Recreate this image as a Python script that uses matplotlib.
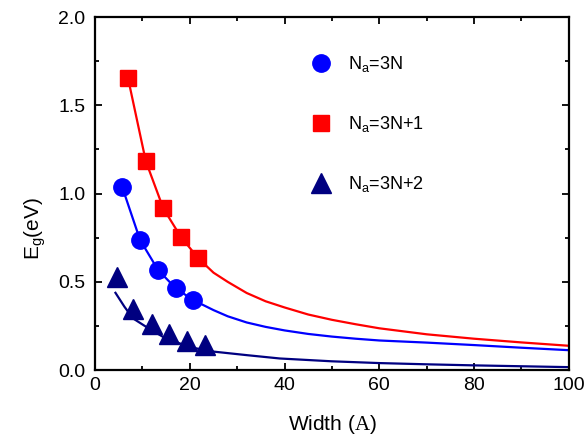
import matplotlib
matplotlib.use("Agg")
import matplotlib.pyplot as plt

plt.rcParams['font.family'] = ['Liberation Sans', 'DejaVu Sans']
plt.rcParams['mathtext.fontset'] = 'custom'
plt.rcParams['mathtext.rm'] = 'Liberation Sans'
plt.rcParams['mathtext.tt'] = 'Liberation Serif'

# markers (width in Angstrom, gap in eV)
w_3n = [5.75, 9.5, 13.3, 17.05, 20.7]
eg_3n = [1.035, 0.737, 0.567, 0.463, 0.397]
w_3n1 = [6.95, 10.7, 14.4, 18.1, 21.8]
eg_3n1 = [1.654, 1.184, 0.916, 0.755, 0.633]
w_3n2 = [4.6, 8.1, 12.0, 15.7, 19.3, 23.1]
eg_3n2 = [0.529, 0.344, 0.264, 0.202, 0.164, 0.140]

# curves
cw_3n = [5.75, 9.5, 13.3, 17.05, 20.7, 25, 28, 32, 36, 40, 45, 50, 55, 60, 70, 80, 90, 100]
ce_3n = [1.035, 0.737, 0.567, 0.463, 0.397, 0.34, 0.305, 0.27, 0.245, 0.225, 0.205,
         0.19, 0.178, 0.168, 0.156, 0.142, 0.127, 0.113]
cw_3n1 = [6.95, 10.7, 14.4, 18.1, 21.8, 25, 28, 32, 36, 40, 45, 50, 55, 60, 70, 80, 90, 100]
ce_3n1 = [1.654, 1.184, 0.916, 0.755, 0.633, 0.552, 0.50, 0.437, 0.39, 0.355, 0.315,
          0.285, 0.26, 0.237, 0.203, 0.178, 0.157, 0.138]
cw_3n2 = [4.3, 6.2, 8.0, 10.8, 14.3, 17.9, 21.4, 25, 32, 39, 50, 60, 70, 80, 90, 100]
ce_3n2 = [0.438, 0.359, 0.293, 0.245, 0.189, 0.151, 0.123, 0.105, 0.085, 0.066, 0.05,
          0.04, 0.033, 0.027, 0.022, 0.017]

red = '#ff0000'
blue = '#0000ff'
navy = '#000080'

fig = plt.figure(figsize=(5.87, 4.37), dpi=100)
ax = fig.add_axes([0.162, 0.153, 0.807, 0.808])

ax.plot(cw_3n1, ce_3n1, '-', color=red, lw=1.6)
ax.plot(cw_3n, ce_3n, '-', color=blue, lw=1.6)
ax.plot(cw_3n2, ce_3n2, '-', color=navy, lw=1.6)

ax.plot(w_3n, eg_3n, 'o', color=blue, ms=12.5, ls='none', label=r'N$_\mathregular{a}$=3N')
ax.plot(w_3n1, eg_3n1, 's', color=red, ms=11, ls='none', label=r'N$_\mathregular{a}$=3N+1')
ax.plot(w_3n2, eg_3n2, '^', color=navy, ms=14, ls='none', label=r'N$_\mathregular{a}$=3N+2')

ax.set_xlim(0, 100)
ax.set_ylim(0, 2.0)
ax.set_xticks([0, 20, 40, 60, 80, 100])
ax.set_xticks([10, 30, 50, 70, 90], minor=True)
ax.set_yticks([0.0, 0.5, 1.0, 1.5, 2.0])
ax.set_yticklabels(['0.0', '0.5', '1.0', '1.5', '2.0'])
ax.set_yticks([0.25, 0.75, 1.25, 1.75], minor=True)
ax.tick_params(which='both', direction='in', top=True, right=True, labelsize=14, width=1.3)
ax.tick_params(which='major', length=5)
ax.tick_params(which='minor', length=3)
ax.tick_params(axis='y', which='major', pad=7)
ax.tick_params(axis='x', which='major', pad=5)
for s in ax.spines.values():
    s.set_linewidth(1.6)

ax.set_xlabel(r'Width $(\mathtt{A})$', fontsize=15)
ax.set_ylabel(r'E$_\mathregular{g}$(eV)', fontsize=15)
ax.xaxis.set_label_coords(0.5, -0.12)
ax.yaxis.set_label_coords(-0.10, 0.40)

ax.legend(loc='upper left', bbox_to_anchor=(0.405, 0.94), frameon=False, fontsize=13,
          labelspacing=2.2, handletextpad=0.5, numpoints=1)

fig.savefig('out.png', dpi=100)
